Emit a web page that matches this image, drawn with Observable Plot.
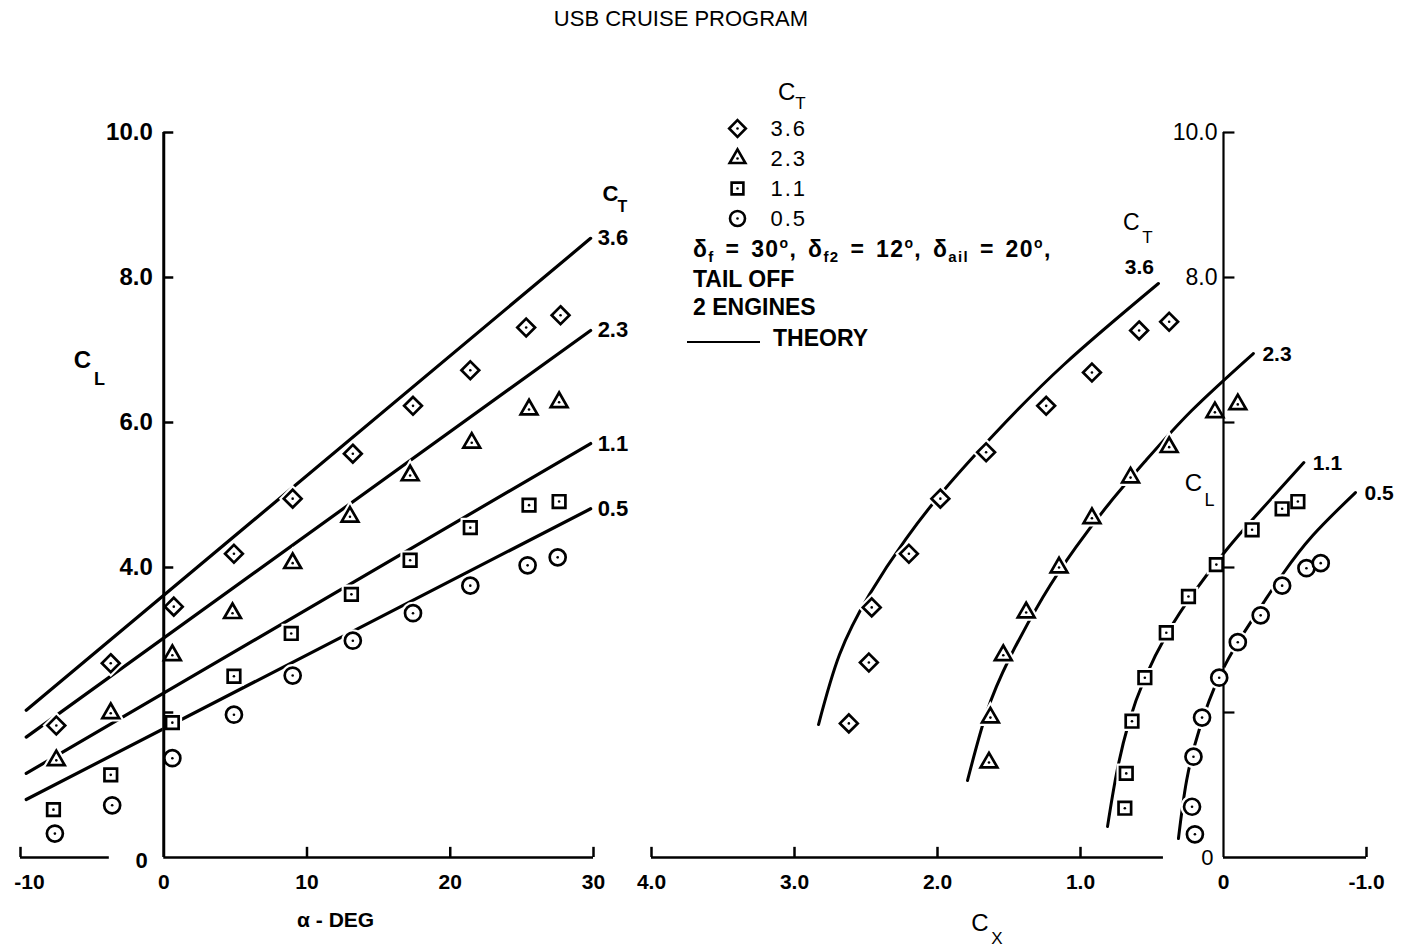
<!DOCTYPE html>
<html><head><meta charset="utf-8">
<script src="https://cdn.jsdelivr.net/npm/d3@7"></script>
<script src="https://cdn.jsdelivr.net/npm/@observablehq/plot@0.6"></script>
<style>
body{margin:0;background:#fff;}
#root{position:relative;width:1402px;height:951px;background:#fff;font-family:"Liberation Sans",Arial,sans-serif;color:#000;overflow:hidden}
#title{position:absolute;top:8px;left:0;width:1362px;text-align:center;font-size:22px;line-height:1;}
.abs{position:absolute}
.lt{position:absolute;white-space:nowrap;font-size:23px;font-weight:bold;line-height:1}
.lt sub{font-size:15px;vertical-align:-5px;line-height:0}
.lt sup{font-size:14px;vertical-align:9px;line-height:0}
#right svg text.sp, #legendSym svg text{letter-spacing:2px}
</style></head>
<body><div id="root">
<div id="title">USB CRUISE PROGRAM</div>
<div id="left" class="abs" style="left:0;top:100px"></div>
<div id="right" class="abs" style="left:640px;top:100px"></div>
<div id="legendSym" class="abs" style="left:720px;top:110px"></div>
<div class="lt" style="left:778px;top:80px;font-weight:normal;font-size:24px">C<sub style="font-size:17px;vertical-align:-9px">T</sub></div>
<div class="lt" style="left:693px;top:238px;letter-spacing:1.4px;word-spacing:3px">δ<sub>f</sub> = 30<sup>o</sup>, δ<sub>f2</sub> = 12<sup>o</sup>, δ<sub>ail</sub> = 20<sup>o</sup>,</div>
<div class="lt" style="left:693px;top:268px">TAIL OFF</div>
<div class="lt" style="left:693px;top:296px">2 ENGINES</div>
<div class="abs" style="left:687px;top:341px;width:73px;height:0;border-top:2.5px solid #000"></div>
<div class="lt" style="left:773px;top:327px">THEORY</div>
</div>
<script>
// ---------- data ----------
const ctValues = ["3.6", "2.3", "1.1", "0.5"];
const ctSymbols = ["diamond2", "triangle2", "square2", "circle"];

// Left panel: C_L vs alpha (deg), test points
const alpha36 = [-7.5, -3.7, 0.7, 4.9, 9.0, 13.2, 17.4, 21.4, 25.3, 27.7];
const cl36 = [1.82, 2.68, 3.46, 4.19, 4.95, 5.57, 6.23, 6.72, 7.31, 7.48];
const alpha23 = [-7.5, -3.7, 0.6, 4.8, 9.0, 13.0, 17.2, 21.5, 25.5, 27.6];
const cl23 = [1.34, 1.99, 2.79, 3.37, 4.06, 4.70, 5.27, 5.72, 6.18, 6.28];
const alpha11 = [-7.7, -3.7, 0.6, 4.9, 8.9, 13.1, 17.2, 21.4, 25.5, 27.6];
const cl11 = [0.66, 1.14, 1.86, 2.50, 3.09, 3.63, 4.10, 4.55, 4.86, 4.91];
const alpha05 = [-7.6, -3.6, 0.6, 4.9, 9.0, 13.2, 17.4, 21.4, 25.4, 27.5];
const cl05 = [0.33, 0.72, 1.37, 1.97, 2.51, 2.99, 3.37, 3.75, 4.03, 4.14];

// Left panel: theory lines (end points)
const thAlpha = [-9.6, 29.8];
const thCl36 = [2.03, 8.54];
const thCl23 = [1.66, 7.27];
const thCl11 = [1.16, 5.71];
const thCl05 = [0.80, 4.81];

// Right panel: C_L vs C_X, test points
const cx36 = [2.62, 2.48, 2.46, 2.20, 1.98, 1.66, 1.24, 0.92, 0.59, 0.38];
const clx36 = [1.85, 2.69, 3.45, 4.19, 4.95, 5.59, 6.23, 6.69, 7.27, 7.39];
const cx23 = [1.64, 1.63, 1.54, 1.38, 1.15, 0.92, 0.65, 0.38, 0.06, -0.10];
const clx23 = [1.31, 1.93, 2.79, 3.38, 4.00, 4.68, 5.24, 5.66, 6.14, 6.25];
const cx11 = [0.69, 0.68, 0.64, 0.55, 0.40, 0.245, 0.05, -0.20, -0.41, -0.52];
const clx11 = [0.68, 1.16, 1.88, 2.48, 3.10, 3.60, 4.04, 4.52, 4.81, 4.91];
const cx05 = [0.20, 0.22, 0.21, 0.15, 0.03, -0.10, -0.26, -0.41, -0.58, -0.68];
const clx05 = [0.32, 0.70, 1.39, 1.93, 2.48, 2.97, 3.34, 3.75, 3.99, 4.06];

// Right panel: theory curves
const thCx36 = [2.832, 2.685, 2.476, 2.224, 1.951, 1.605, 1.115, 0.455];
const thClx36 = [1.834, 2.800, 3.628, 4.386, 5.076, 5.834, 6.800, 7.917];
const thCx23 = [1.790, 1.659, 1.494, 1.264, 1.033, 0.799, 0.543, 0.222, -0.209];
const thClx23 = [1.062, 1.986, 2.759, 3.586, 4.276, 4.883, 5.476, 6.166, 6.952];
const thCx11 = [0.811, 0.748, 0.664, 0.551, 0.390, 0.208, -0.017, -0.228, -0.562];
const thClx11 = [0.428, 1.159, 1.848, 2.469, 3.103, 3.655, 4.234, 4.717, 5.448];
const thCx05 = [0.315, 0.258, 0.165, 0.032, -0.122, -0.290, -0.422, -0.624, -0.923];
const thClx05 = [0.262, 1.062, 1.793, 2.483, 3.034, 3.545, 3.931, 4.441, 5.034];

// Ticks and labels
const leftXTicks = [-10, 0, 10, 20, 30];
const leftXLabels = ["-10", "0", "10", "20", "30"];
const leftYLabelVals = [10, 8, 6, 4];
const leftYLabels = ["10.0", "8.0", "6.0", "4.0"];
const yTickVals = [2, 4, 6, 8, 10];
const rightXTicks = [4, 3, 2, 1, 0, -1];
const rightXLabels = ["4.0", "3.0", "2.0", "1.0", "0", "-1.0"];
const rightYLabelVals = [10, 8];
const rightYLabels = ["10.0", "8.0"];

// ---------- build tables ----------
const table = (ct, xs, ys) => xs.map((x, i) => ({ct, x, y: ys[i]}));
const leftPts = [table("3.6", alpha36, cl36), table("2.3", alpha23, cl23), table("1.1", alpha11, cl11), table("0.5", alpha05, cl05)].flat();
const leftThSeries = [table("3.6", thAlpha, thCl36), table("2.3", thAlpha, thCl23), table("1.1", thAlpha, thCl11), table("0.5", thAlpha, thCl05)];
const leftTh = leftThSeries.flat();
const leftThEnds = leftThSeries.map(s => s[s.length - 1]);
const rightPts = [table("3.6", cx36, clx36), table("2.3", cx23, clx23), table("1.1", cx11, clx11), table("0.5", cx05, clx05)].flat();
const rightThSeries = [table("3.6", thCx36, thClx36), table("2.3", thCx23, thClx23), table("1.1", thCx11, thClx11), table("0.5", thCx05, thClx05)];
const rightTh = rightThSeries.flat();
const rightThEnds = rightThSeries.map(s => s[s.length - 1]);

const FONT = '"Liberation Sans", Arial, sans-serif';
const halo = data => Plot.dot(data, {x: "x", y: "y", symbol: "ct", r: 8, fill: "white", stroke: "white", strokeWidth: 7});
const markers = data => [
  Plot.dot(data, {x: "x", y: "y", symbol: "ct", r: 8, fill: "white", stroke: "black", strokeWidth: 2.7}),
  Plot.dot(data, {x: "x", y: "y", r: 1.3, fill: "black"})
];

// ---------- left panel ----------
const left = Plot.plot({
  width: 640, height: 851, marginTop: 32, marginBottom: 94, marginLeft: 20, marginRight: 47,
  x: {domain: [-10, 30], axis: null},
  y: {domain: [0, 10], axis: null},
  symbol: {domain: ctValues, range: ctSymbols},
  style: {background: "transparent", overflow: "visible", fontFamily: FONT, color: "black"},
  marks: [
    Plot.line(leftTh, {x: "x", y: "y", z: "ct", stroke: "black", strokeWidth: 3.2, strokeLinecap: "round"}),
    halo(leftPts),
    Plot.ruleX([0], {y1: 0, y2: 10, stroke: "black", strokeWidth: 3}),
    Plot.ruleY(yTickVals, {x1: 0, x2: 0.7, stroke: "black", strokeWidth: 2.5}),
    Plot.ruleY([{a: -10, b: -3.8}, {a: 0, b: 30}], {y: 0, x1: "a", x2: "b", stroke: "black", strokeWidth: 2.5}),
    Plot.ruleX([-10, 10, 20, 30], {y1: 0, y2: 0.14, stroke: "black", strokeWidth: 2.5}),
    Plot.text(leftXTicks.slice(1), {x: d => d, y: 0, dy: 25, text: (d, i) => leftXLabels[i + 1], fontSize: 21, fontWeight: "bold"}),
    Plot.text(leftXTicks.slice(0, 1), {x: d => d, y: 0, dy: 25, dx: 9, text: (d, i) => leftXLabels[i], fontSize: 21, fontWeight: "bold"}),
    Plot.text(leftYLabelVals, {x: 0, y: d => d, dx: -11, text: (d, i) => leftYLabels[i], textAnchor: "end", fontSize: 24, fontWeight: "bold"}),
    Plot.text(["0"], {x: 0, y: 0, dx: -16, dy: 3, textAnchor: "end", fontSize: 22, fontWeight: "bold"}),
    ...markers(leftPts),
    Plot.text(leftThEnds, {x: "x", y: "y", text: "ct", dx: 7, textAnchor: "start", fontSize: 22, fontWeight: "bold"}),
    Plot.text(["C"], {x: 30, y: 9.0, dx: 17, dy: -11, fontSize: 22, fontWeight: "bold"}),
    Plot.text(["T"], {x: 30, y: 9.0, dx: 29, dy: 2, fontSize: 16, fontWeight: "bold"}),
    Plot.text(["C"], {x: -10, y: 7, dx: 62, dy: 10, fontSize: 24, fontWeight: "bold"}),
    Plot.text(["L"], {x: -10, y: 7, dx: 79, dy: 29, fontSize: 18, fontWeight: "bold"}),
    Plot.text(["α - DEG"], {x: 12, y: 0, dy: 63, fontSize: 21, fontWeight: "bold"})
  ]
});
document.getElementById("left").append(left);

// ---------- right panel ----------
const right = Plot.plot({
  width: 762, height: 851, marginTop: 32, marginBottom: 94, marginLeft: 11, marginRight: 36,
  x: {domain: [4, -1], axis: null},
  y: {domain: [0, 10], axis: null},
  symbol: {domain: ctValues, range: ctSymbols},
  style: {background: "transparent", overflow: "visible", fontFamily: FONT, color: "black"},
  marks: [
    Plot.line(rightTh, {x: "x", y: "y", z: "ct", curve: "natural", stroke: "black", strokeWidth: 3, strokeLinecap: "round"}),
    halo(rightPts),
    Plot.ruleX([0], {y1: 0, y2: 10, stroke: "black", strokeWidth: 2.2}),
    Plot.ruleY(yTickVals, {x1: 0, x2: -0.08, stroke: "black", strokeWidth: 2.2}),
    Plot.ruleY([{a: 4, b: 0.42}, {a: 0, b: -1}], {y: 0, x1: "a", x2: "b", stroke: "black", strokeWidth: 2.5}),
    Plot.ruleX([4, 3, 2, 1, -1], {y1: 0, y2: 0.14, stroke: "black", strokeWidth: 2.5}),
    Plot.text(rightXTicks, {x: d => d, y: 0, dy: 25, text: (d, i) => rightXLabels[i], fontSize: 21, fontWeight: "bold", className: "sp"}),
    Plot.text(rightYLabelVals, {x: 0, y: d => d, dx: -6, text: (d, i) => rightYLabels[i], textAnchor: "end", fontSize: 23, className: "sp"}),
    Plot.text(["0"], {x: 0, y: 0, dx: -10, textAnchor: "end", fontSize: 22}),
    ...markers(rightPts),
    Plot.text(rightThEnds.slice(1), {x: "x", y: "y", text: "ct", dx: 9, dy: 1, textAnchor: "start", fontSize: 21, fontWeight: "bold", className: "sp"}),
    Plot.text(rightThEnds.slice(0, 1), {x: "x", y: "y", text: "ct", dx: -19, dy: -16, fontSize: 21, fontWeight: "bold", className: "sp"}),
    Plot.text(["C"], {x: rightThEnds[0].x, y: rightThEnds[0].y, dx: -27, dy: -61, fontSize: 23}),
    Plot.text(["T"], {x: rightThEnds[0].x, y: rightThEnds[0].y, dx: -11, dy: -46, fontSize: 17}),
    Plot.text(["C"], {x: 0, y: 5, dx: -30, dy: -12, fontSize: 24}),
    Plot.text(["L"], {x: 0, y: 5, dx: -14, dy: 5, fontSize: 18}),
    Plot.text(["C"], {x: 1.5, y: 0, dx: -29, dy: 66, fontSize: 24}),
    Plot.text(["X"], {x: 1.5, y: 0, dx: -12, dy: 81, fontSize: 17})
  ]
});
document.getElementById("right").append(right);

// ---------- legend symbols ----------
const legend = Plot.plot({
  width: 110, height: 125, margin: 0,
  x: {domain: [0, 1], range: [17, 100], axis: null},
  y: {type: "point", domain: ctValues, range: [18, 108], padding: 0, axis: null},
  symbol: {domain: ctValues, range: ctSymbols},
  style: {background: "transparent", overflow: "visible", fontFamily: FONT},
  marks: [
    Plot.dot(ctValues, {x: 0, y: d => d, symbol: d => d, r: 7.5, fill: "white", stroke: "black", strokeWidth: 2.6}),
    Plot.dot(ctValues, {x: 0, y: d => d, r: 1.3, fill: "black"}),
    Plot.text(ctValues, {x: 0, y: d => d, text: d => d, dx: 33, textAnchor: "start", fontSize: 22})
  ]
});
document.getElementById("legendSym").append(legend);
</script>
</body></html>
